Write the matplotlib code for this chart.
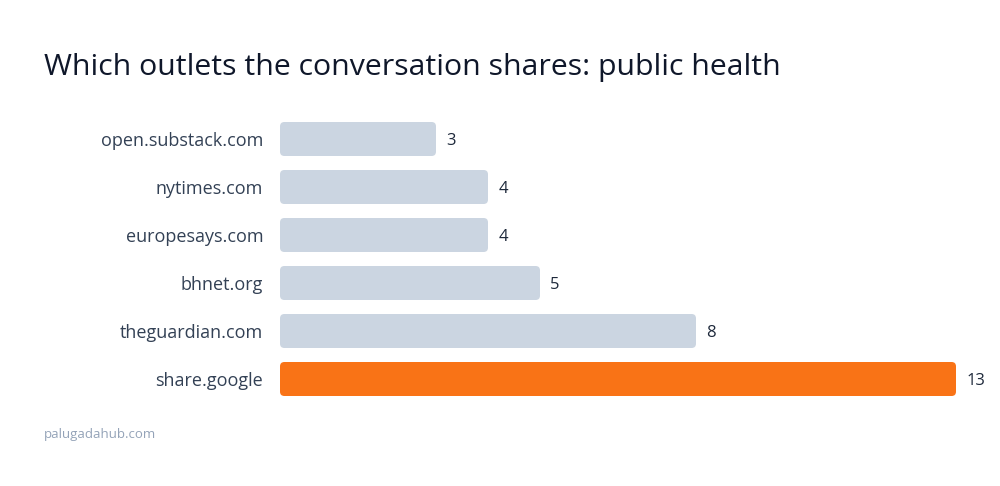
import matplotlib
matplotlib.use("Agg")
import matplotlib.pyplot as plt
from matplotlib.patches import FancyBboxPatch

plt.rcParams['font.family'] = ['Open Sans', 'DejaVu Sans']

# data (top to bottom as shown)
outlets = ['open.substack.com', 'nytimes.com', 'europesays.com', 'bhnet.org',
           'theguardian.com', 'share.google']
counts = [3, 4, 4, 5, 8, 13]
highlight = 'share.google'

GREY = '#cbd5e1'
ORANGE = '#f97316'

fig = plt.figure(figsize=(10, 4.86), dpi=100)
ax = fig.add_axes([0.28, 1 - 403 / 486, 0.676, 288 / 486])

ypos = list(range(len(outlets)))[::-1]
bar_h = 34 / 48
for name, val, y in zip(outlets, counts, ypos):
    color = ORANGE if name == highlight else GREY
    patch = FancyBboxPatch((0, y - bar_h / 2), val, bar_h,
                           boxstyle="round,pad=0,rounding_size=0.085",
                           mutation_aspect=52 / 48,
                           facecolor=color, edgecolor='none')
    ax.add_patch(patch)
    ax.annotate(str(val), xy=(val, y), xytext=(7.5, 0), textcoords='offset points',
                ha='left', va='center_baseline', fontsize=12, color='#1e293b',
                annotation_clip=False)

ax.set_xlim(0, 13)
ax.set_ylim(-0.5, len(outlets) - 0.5)
ax.set_yticks(ypos)
ax.set_yticklabels(outlets, fontsize=13, color='#334155', va='center_baseline')
ax.tick_params(axis='y', length=0, pad=12)
ax.set_xticks([])
for s in ax.spines.values():
    s.set_visible(False)

fig.text(0.044, 1 - 75 / 486, 'Which outlets the conversation shares: public health',
         fontsize=21.8, color='#0f172a', ha='left', va='baseline')
fig.text(0.044, 1 - 434 / 486, 'palugadahub.com', fontsize=9.5, color='#94a3b8',
         ha='left', va='center')

fig.savefig('out.png', dpi=100)
